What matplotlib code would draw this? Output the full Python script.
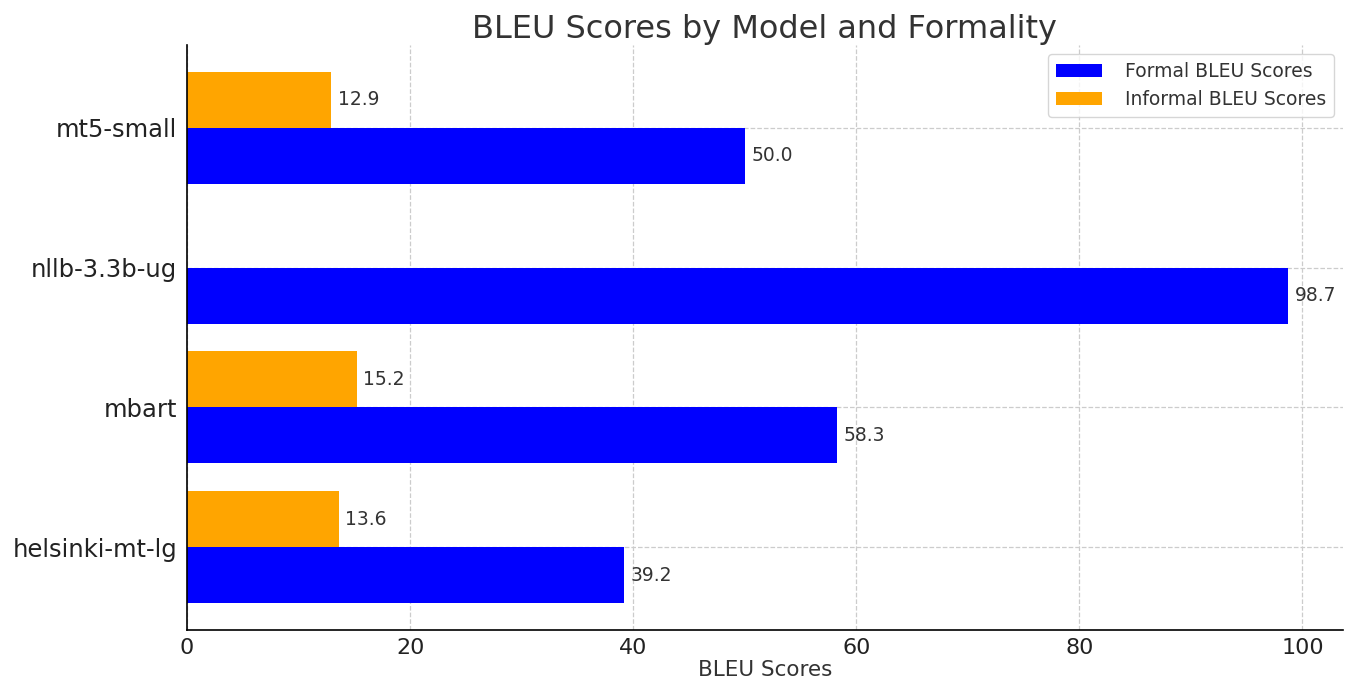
import numpy as np
import matplotlib.pyplot as plt

# data
models = ['helsinki-mt-lg', 'mbart', 'nllb-3.3b-ug', 'mt5-small']
formal = [39.2, 58.3, 98.7, 50.0]
informal = [13.6, 15.2, 0.0, 12.9]

plt.rcParams['font.family'] = ['DejaVu Sans']
plt.rcParams['text.color'] = '#333333'
plt.rcParams['axes.labelcolor'] = '#333333'
plt.rcParams['xtick.color'] = '#222222'
plt.rcParams['ytick.color'] = '#222222'

fig = plt.figure(figsize=(13.51, 6.84), dpi=100)
ax = fig.add_axes([187/1351, 1 - 630/684, (1343-187)/1351, (630-45)/684])

y = np.arange(len(models))
h = 0.4
b1 = ax.barh(y - h/2, formal, h, color='blue', label='Formal BLEU Scores')
b2 = ax.barh(y + h/2, informal, h, color='orange', label='Informal BLEU Scores')

# value labels
for bar, v in zip(b1, formal):
    ax.text(v + 0.6, bar.get_y() + bar.get_height()/2, f'{v:.1f}',
            va='center', ha='left', fontsize=13.5, color='#333333')
for bar, v in zip(b2, informal):
    if v > 0:
        ax.text(v + 0.6, bar.get_y() + bar.get_height()/2, f'{v:.1f}',
                va='center', ha='left', fontsize=13.5, color='#333333')

ax.set_yticks(y)
ax.set_yticklabels(models, fontsize=17.5)
ax.tick_params(axis='x', labelsize=16, length=0, pad=6)
ax.tick_params(axis='y', length=0, pad=7)
ax.set_xlabel('BLEU Scores', fontsize=15.5, labelpad=1)
ax.set_title('BLEU Scores by Model and Formality', fontsize=23, pad=2)
ax.grid(True, linestyle='--', color='#cccccc', linewidth=0.9)
ax.set_axisbelow(True)
for s in ['top', 'right']:
    ax.spines[s].set_visible(False)
ax.spines['left'].set_linewidth(1.2)
ax.spines['bottom'].set_linewidth(1.2)
ax.legend(loc='upper right', fontsize=13.5, handlelength=2.5, handletextpad=1.2)

fig.savefig('out.png', dpi=100)
